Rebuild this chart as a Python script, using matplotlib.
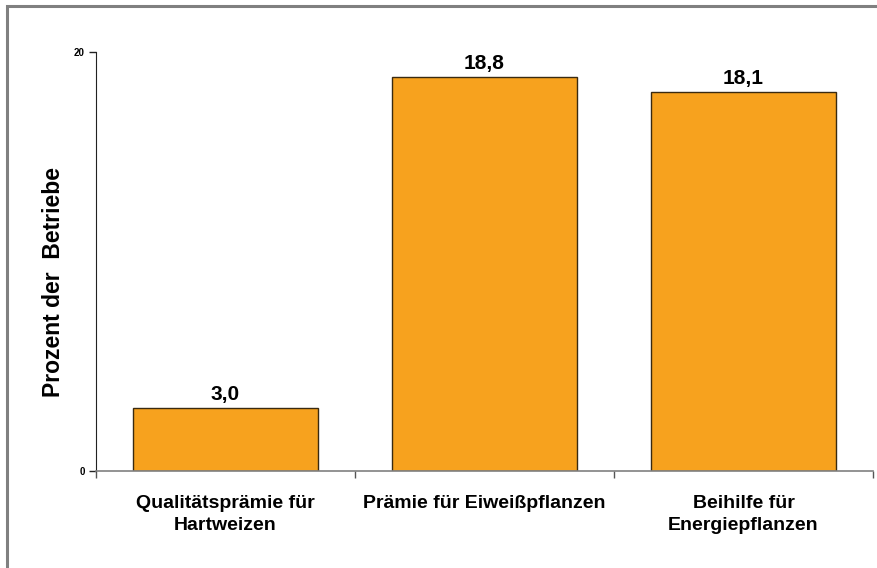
import numpy as np
import matplotlib.pyplot as plt
from matplotlib.patches import Rectangle

plt.rcParams['font.family'] = ['Liberation Sans', 'DejaVu Sans']
plt.rcParams['font.weight'] = 'bold'

# share of farms per support measure (percent)
categories = ['Qualitätsprämie für\nHartweizen', 'Prämie für Eiweißpflanzen', 'Beihilfe für\nEnergiepflanzen']
values = [3.0, 18.8, 18.1]
value_labels = ['3,0', '18,8', '18,1']

fig = plt.figure(figsize=(8.77, 5.68), dpi=100)

# grey frame around the chart area (open to the right and bottom)
fig.patches.append(Rectangle((7 / 877, -0.1), 1.2, 1 - 6 / 568 + 0.1,
                             transform=fig.transFigure, fill=False,
                             edgecolor='#808080', linewidth=2.2))

ax = fig.add_axes([96 / 877, 1 - 471 / 568, 777 / 877, 419 / 568])

x = np.arange(len(categories))
ax.bar(x, values, width=0.715, color='#F7A21E', edgecolor='#3a2a10', linewidth=1.0, zorder=2)

for xi, v, lab in zip(x, values, value_labels):
    ax.annotate(lab, (xi, v), xytext=(0, 3), textcoords='offset points',
                ha='center', va='bottom', fontsize=15, fontweight='bold')

ax.set_xlim(-0.5, len(categories) - 0.5)
ax.set_ylim(0, 20)
ax.set_yticks([0, 20])
ax.set_yticklabels(['0', '20'], fontsize=7, fontweight='bold')
ax.tick_params(axis='y', direction='out', length=5, width=1, color='#222222', pad=3)

# category tick marks sit between the bars
ax.set_xticks(np.arange(len(categories) + 1) - 0.5)
ax.set_xticklabels([])
ax.tick_params(axis='x', direction='out', length=5, width=1, color='#555555')
for xi, cat in zip(x, categories):
    ax.text(xi, -1.15, cat, ha='center', va='top', fontsize=14,
            fontweight='bold', linespacing=1.35,
            transform=ax.transData)

ax.spines['top'].set_visible(False)
ax.spines['right'].set_visible(False)
ax.spines['left'].set_color('#222222')
ax.spines['bottom'].set_color('#808080')
ax.spines['bottom'].set_linewidth(1.2)

ax.set_ylabel('Prozent der  Betriebe', fontsize=16.5, fontweight='bold')
ax.yaxis.set_label_coords(-0.040, 0.452)

fig.savefig('out.png', dpi=100)
